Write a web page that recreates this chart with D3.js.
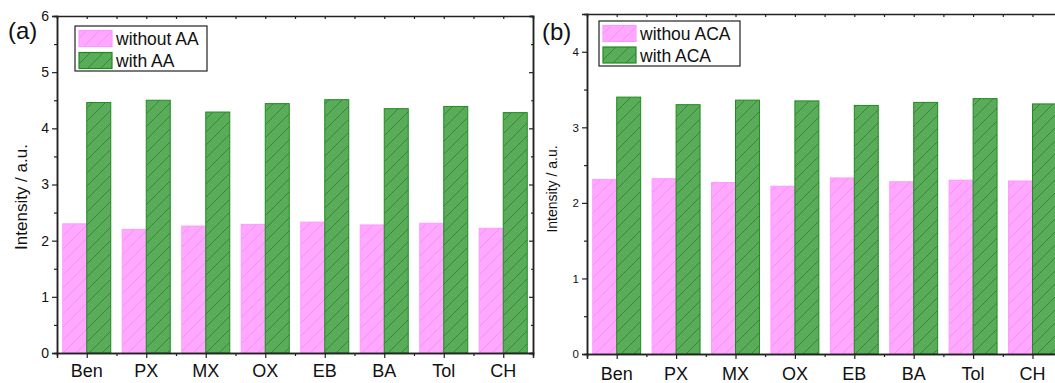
<!DOCTYPE html>
<html>
<head>
<meta charset="utf-8">
<script src="https://cdn.jsdelivr.net/npm/d3@7"></script>
<style>
  html, body { margin: 0; padding: 0; background: #fff; }
  svg { display: block; font-family: "Liberation Sans", Arial, sans-serif; }
</style>
</head>
<body>
<svg id="chart" width="1055" height="383"></svg>
<script>
// Solvent categories shared by both panels
const categories = ["Ben", "PX", "MX", "OX", "EB", "BA", "Tol", "CH"];

// Panel (a): intensity without / with AA
const withoutAA = [2.30, 2.20, 2.26, 2.29, 2.33, 2.28, 2.31, 2.22];
const withAA    = [4.46, 4.50, 4.29, 4.44, 4.51, 4.35, 4.39, 4.28];

// Panel (b): intensity without / with ACA
const withoutACA = [2.31, 2.32, 2.27, 2.22, 2.33, 2.28, 2.30, 2.29];
const withACA    = [3.40, 3.30, 3.36, 3.35, 3.29, 3.33, 3.38, 3.31];

// Axis ticks
const yTicksA = [0, 1, 2, 3, 4, 5, 6];
const yTicksB = [0, 1, 2, 3, 4];

const legendA = ["without AA", "with AA"];
const legendB = ["withou ACA", "with ACA"];

const svg = d3.select("#chart");
const defs = svg.append("defs");

// Diagonal hatch fills
function hatch(id, base, line) {
  const s = 13;
  const p = defs.append("pattern")
    .attr("id", id)
    .attr("patternUnits", "userSpaceOnUse")
    .attr("width", s).attr("height", s);
  p.append("rect").attr("width", s).attr("height", s).attr("fill", base);
  p.append("path")
    .attr("d", `M-3,3 L3,-3 M0,${s} L${s},0 M${s - 3},${s + 3} L${s + 3},${s - 3}`)
    .attr("stroke", line).attr("stroke-width", 0.9).attr("fill", "none");
}
hatch("hatch-pink", "#ffa8ff", "#ff85ff");
hatch("hatch-green", "#5aab5a", "#2a8a2a");

const seriesStyle = [
  { fill: "url(#hatch-pink)", stroke: "#ff99ff" },
  { fill: "url(#hatch-green)", stroke: "#1f8c1f" }
];

function drawPanel(cfg) {
  const g = svg.append("g");
  const [x0, x1] = cfg.xRange;
  const [yBottom, yTop] = cfg.yRange;

  const x = d3.scaleBand().domain(categories).range([x0, x1])
    .paddingInner(0.193).paddingOuter(0.0965);
  const sub = d3.scaleBand().domain([0, 1]).range([0, x.bandwidth()]);
  const y = d3.scaleLinear().domain([0, cfg.yMax]).range([yBottom, yTop]);
  const xc = d3.scaleLinear().domain([-0.5, categories.length - 0.5]).range([x0, x1]);

  // Bars
  cfg.series.forEach((vals, si) => {
    g.append("g").selectAll("rect")
      .data(vals)
      .join("rect")
      .attr("x", (d, i) => x(categories[i]) + sub(si))
      .attr("y", d => y(d))
      .attr("width", sub.bandwidth())
      .attr("height", d => y(0) - y(d))
      .attr("fill", seriesStyle[si].fill)
      .attr("stroke", seriesStyle[si].stroke)
      .attr("stroke-width", 1);
  });

  const axisColor = "#222";
  const styleAxis = sel => {
    sel.select(".domain").attr("stroke", axisColor).attr("stroke-width", 1.5);
    sel.selectAll(".tick line").attr("stroke", axisColor).attr("stroke-width", 1.2);
  };

  const halfTicks = d3.range(0.5, cfg.yMax, 1);
  const centers = d3.range(categories.length);
  const bounds = d3.range(0.5, categories.length - 1, 1);

  // Left axis: major with labels, minor at halves
  g.append("g").attr("transform", `translate(${x0},0)`)
    .call(d3.axisLeft(y).tickValues(halfTicks).tickSize(3).tickFormat(""))
    .call(styleAxis);
  g.append("g").attr("transform", `translate(${x0},0)`)
    .call(d3.axisLeft(y).tickValues(cfg.yTicks).tickSize(5).tickPadding(3).tickFormat(d3.format("d")))
    .call(styleAxis)
    .call(s => s.selectAll("text").attr("font-size", cfg.tickFont).attr("fill", "#111")
      .attr("font-family", "Liberation Sans, Arial, sans-serif"));

  // Right axis: inward ticks
  g.append("g").attr("transform", `translate(${x1},0)`)
    .call(d3.axisRight(y).tickValues(cfg.yTicks).tickSize(-4).tickFormat(""))
    .call(styleAxis);
  g.append("g").attr("transform", `translate(${x1},0)`)
    .call(d3.axisRight(y).tickValues(halfTicks).tickSize(-2).tickFormat(""))
    .call(styleAxis);

  // Bottom axis: category ticks with labels, minor ticks at group boundaries
  g.append("g").attr("transform", `translate(0,${yBottom})`)
    .call(d3.axisBottom(xc).tickValues(bounds).tickSize(3).tickFormat(""))
    .call(styleAxis);
  g.append("g").attr("transform", `translate(0,${yBottom})`)
    .call(d3.axisBottom(xc).tickValues(centers).tickSize(5).tickFormat(""))
    .call(styleAxis);
  g.append("g").selectAll("text")
    .data(categories)
    .join("text")
    .attr("x", d => x(d) + x.bandwidth() / 2)
    .attr("y", cfg.labelBaseline)
    .attr("text-anchor", "middle")
    .attr("font-size", 18)
    .attr("fill", "#111")
    .text(d => d);

  // Top axis: short inward ticks
  g.append("g").attr("transform", `translate(0,${yTop})`)
    .call(d3.axisTop(xc).tickValues(centers.concat(bounds)).tickSize(-3).tickFormat(""))
    .call(styleAxis);

  // Y axis title
  g.append("text")
    .attr("transform", `translate(${cfg.titleX},${cfg.titleY}) rotate(-90)`)
    .attr("text-anchor", "middle")
    .attr("font-size", cfg.titleFont)
    .attr("fill", "#111")
    .text("Intensity / a.u.");

  // Panel letter
  g.append("text")
    .attr("x", cfg.letterX).attr("y", cfg.letterY)
    .attr("font-size", 24)
    .attr("fill", "#111")
    .text(cfg.letter);

  // Legend
  const lg = cfg.legend;
  g.append("rect")
    .attr("x", lg.x).attr("y", lg.y).attr("width", lg.w).attr("height", lg.h)
    .attr("fill", "#fff").attr("stroke", "#222").attr("stroke-width", 1.2);
  cfg.legendLabels.forEach((lab, i) => {
    const ry = lg.y + 4.5 + i * lg.row;
    g.append("rect")
      .attr("x", lg.x + 4).attr("y", ry).attr("width", 33).attr("height", 16)
      .attr("fill", seriesStyle[i].fill).attr("stroke", seriesStyle[i].stroke).attr("stroke-width", 1.2);
    g.append("text")
      .attr("x", lg.x + 41).attr("y", ry + 14.5)
      .attr("font-size", 17.5).attr("fill", "#111")
      .text(lab);
  });
}

drawPanel({
  xRange: [57, 533], yRange: [353, 16], yMax: 6, yTicks: yTicksA,
  series: [withoutAA, withAA], tickFont: 14, labelBaseline: 377,
  titleX: 27, titleY: 197, titleFont: 17,
  letter: "(a)", letterX: 8, letterY: 39,
  legend: { x: 75, y: 26, w: 132, h: 45, row: 22 },
  legendLabels: legendA
});

drawPanel({
  xRange: [587, 1062.2], yRange: [354, 14], yMax: 4.5, yTicks: yTicksB,
  series: [withoutACA, withACA], tickFont: 11.5, labelBaseline: 380,
  titleX: 557, titleY: 189, titleFont: 14,
  letter: "(b)", letterX: 542, letterY: 40,
  legend: { x: 599, y: 21, w: 141, h: 45, row: 21.5 },
  legendLabels: legendB
});
</script>
</body>
</html>
